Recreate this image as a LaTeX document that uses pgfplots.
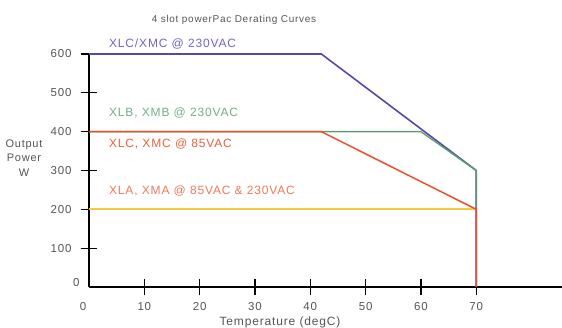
\documentclass[border=0pt]{standalone}
\usepackage{fontspec}
\setmainfont{Liberation Sans}[LetterSpace=7]
\usepackage{pgfplots}
\pgfplotsset{compat=1.18}
\definecolor{txt}{HTML}{555555}
\definecolor{cblue}{HTML}{5548AA}
\definecolor{cgreen}{HTML}{5E9E6E}
\definecolor{cred}{HTML}{E8502E}
\definecolor{cyel}{HTML}{F4CC3C}
\definecolor{tblue}{HTML}{7565C0}
\definecolor{tgreen}{HTML}{74AE88}
\definecolor{tred}{HTML}{E8603E}
\definecolor{tora}{HTML}{EC7A5A}
\begin{document}
\begin{tikzpicture}[x=1pt,y=1pt]
\begin{axis}[
  at={(0,0)}, anchor=south west,
  scale only axis, width=473pt, height=233pt,
  xmin=0, xmax=85.5, ymin=0, ymax=600,
  axis x line*=bottom, axis y line*=left,
  axis line style={-, black, line width=1.2pt},
  xtick={10,20,...,70}, ytick={100,200,...,600},
  extra x ticks={0}, extra y ticks={0},
  extra tick style={major tick length=0pt},
  tick align=center, major tick length=16pt,
  tick style={black, line width=1.2pt},
  ticklabel style={font=\fontsize{11.5}{12}\selectfont, text=txt},
  /pgf/number format/assume math mode=true,
  xticklabel style={yshift=-4pt},
  yticklabel style={xshift=-6pt},
  extra x tick style={xticklabel style={yshift=-8pt, xshift=-6pt}},
  extra y tick style={yticklabel style={xshift=0pt, yshift=4pt}},
  clip=false,
]
\addplot[cyel, line width=2pt] coordinates {(0,200) (70,200)};
\addplot[cblue, line width=1.6pt] coordinates {(0,600) (42,600) (70,300) (70,0)};
\addplot[cgreen, line width=1.4pt] coordinates {(0,400) (60,400) (70,300) (70,200)};
\addplot[cred, line width=1.5pt] coordinates {(0,400) (42,400) (70,200) (70,0)};
\node[anchor=west, text=tblue, font=\fontsize{12}{13}\selectfont] at (axis cs:3.0,625) {XLC/XMC @ 230VAC};
\node[anchor=west, text=tgreen, font=\fontsize{12}{13}\selectfont] at (axis cs:3.0,447) {XLB, XMB @ 230VAC};
\node[anchor=west, text=tred, font=\fontsize{12}{13}\selectfont] at (axis cs:3.0,368) {XLC, XMC @ 85VAC};
\node[anchor=west, text=tora, font=\fontsize{12}{13}\selectfont] at (axis cs:3.0,247) {XLA, XMA @ 85VAC \& 230VAC};
\end{axis}
\node[text=txt, font=\fontsize{10}{12}\selectfont] at (145pt,267pt) {4 slot powerPac Derating Curves};
\node[text=txt, font=\fontsize{11}{14.5}\selectfont, align=center] at (-65pt,129pt) {Output\\Power\\W};
\node[text=txt, font=\fontsize{12}{13}\selectfont] at (191pt,-35pt) {Temperature (degC)};
\pgfresetboundingbox
\path[use as bounding box] (-89pt,-41pt) rectangle (473pt,287pt);
\end{tikzpicture}
\end{document}
